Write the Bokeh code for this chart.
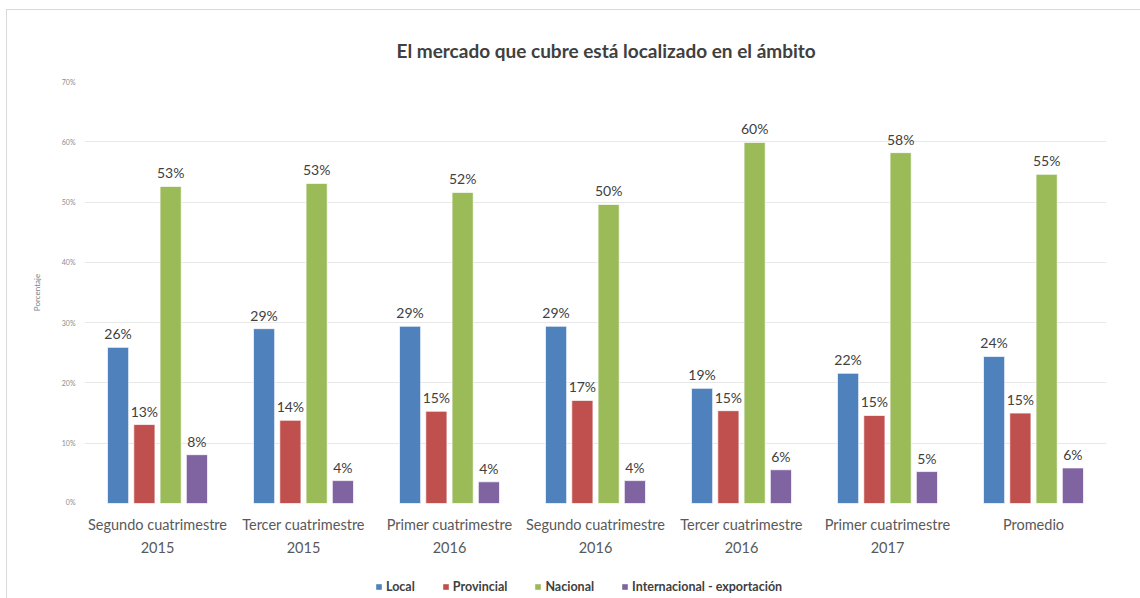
from bokeh.plotting import figure
from bokeh.layouts import column
from bokeh.models import ColumnDataSource, Legend, LegendItem, FixedTicker, Range1d, FactorRange
from bokeh.transform import dodge
from bokeh.core.properties import value
from bokeh.embed import file_html
from bokeh.resources import INLINE

categories = ["Segundo cuatrimestre\n2015", "Tercer cuatrimestre\n2015", "Primer cuatrimestre\n2016",
              "Segundo cuatrimestre\n2016", "Tercer cuatrimestre\n2016", "Primer cuatrimestre\n2017",
              "Promedio"]
series_names = ["Local", "Provincial", "Nacional", "Internacional - exportación"]
local = [25.9, 29.0, 29.4, 29.4, 19.1, 21.6, 24.4]
provincial = [13.1, 13.8, 15.3, 17.1, 15.4, 14.6, 15.0]
nacional = [52.6, 53.1, 51.6, 49.6, 59.9, 58.2, 54.6]
internacional = [8.1, 3.8, 3.6, 3.8, 5.6, 5.3, 5.9]
colors = ["#4F81BD", "#C0504D", "#9BBB59", "#8064A2"]
y_ticks = [0, 10, 20, 30, 40, 50, 60, 70]

FONT = "Lato"

# ---- main chart ----
p = figure(width=1134, height=495, x_range=FactorRange(*categories, range_padding=0),
           y_range=Range1d(0, 70), output_backend="svg", toolbar_location=None,
           min_border_left=77, min_border_right=35, min_border_top=71, min_border_bottom=2)
p.outline_line_color = None
p.background_fill_color = "white"

p.title.text = "El mercado que cubre está localizado en el ámbito"
p.title.text_font = FONT
p.title.text_font_size = "19px"
p.title.text_font_style = "bold"
p.title.text_color = "#404040"
p.title.align = "left"
p.title.offset = 312
p.title.standoff = 40

offsets = [-0.27, -0.09, 0.09, 0.27]
for name, vals, col, off in zip(series_names, [local, provincial, nacional, internacional], colors, offsets):
    src = ColumnDataSource(dict(x=categories, top=vals, label=[f"{round(v)}%" for v in vals]))
    p.vbar(x=dodge("x", off, range=p.x_range), top="top", width=0.145, source=src,
           fill_color=col, line_color="white", line_alpha=0.7, line_width=1)
    p.text(x=dodge("x", off, range=p.x_range), y="top", text="label", source=src,
           text_font=value(FONT), text_font_size="14px", text_color="#404040",
           text_align="center", text_baseline="bottom", y_offset=-5)

p.xgrid.visible = False
p.ygrid.grid_line_color = "#e8e8e8"
p.ygrid.grid_line_width = 1
p.xaxis.visible = False

p.yaxis.ticker = FixedTicker(ticks=y_ticks)
p.yaxis.major_label_overrides = {t: f"{t}%" for t in y_ticks}
p.yaxis.axis_line_color = None
p.yaxis.major_tick_line_color = None
p.yaxis.minor_tick_line_color = None
p.yaxis.major_label_text_font = FONT
p.yaxis.major_label_text_font_size = "7px"
p.yaxis.major_label_text_color = "#8c8c8c"
p.yaxis.major_label_standoff = 3
p.yaxis.axis_label = "Porcentaje"
p.yaxis.axis_label_text_font = FONT
p.yaxis.axis_label_text_font_size = "8px"
p.yaxis.axis_label_text_font_style = "normal"
p.yaxis.axis_label_text_color = "#7f7f7f"
p.yaxis.axis_label_standoff = 17

# ---- category labels and legend strip ----
p2 = figure(width=1134, height=94, x_range=p.x_range, y_range=Range1d(0, 94),
            output_backend="svg", toolbar_location=None,
            min_border_left=77, min_border_right=35, min_border_top=0, min_border_bottom=0)
p2.outline_line_color = None
p2.axis.visible = False
p2.grid.visible = False

cat_src = ColumnDataSource(dict(x=categories, y=[94] * len(categories)))
p2.text(x="x", y="y", text="x", source=cat_src, text_font=value(FONT), text_font_size="14.5px",
        text_color="#595959", text_align="center", text_baseline="top", y_offset=10,
        text_line_height=1.4)

# legend swatches: one off-screen bar per series (below the strip's visible range)
items = []
for name, col in zip(series_names, colors):
    r = p2.vbar(x=[categories[0]], top=[-20], bottom=[-30], width=0.1, fill_color=col, line_color=None)
    items.append(LegendItem(label=name, renderers=[r]))

legend = Legend(items=items, orientation="horizontal", location=(291, 5),
                glyph_width=7, glyph_height=7, label_standoff=4, spacing=27,
                padding=0, margin=0, border_line_color=None, background_fill_alpha=0,
                label_text_font=FONT, label_text_font_size="12.5px", label_text_color="#404040",
                label_text_font_style="bold", label_height=15)
p2.add_layout(legend, "center")

layout = column(p, p2, spacing=0)
layout.styles = {"margin-left": "6px", "margin-top": "9px",
                 "border-left": "1px solid #d9d9d9", "border-top": "1px solid #d9d9d9"}

open("out.html", "w").write(file_html(layout, INLINE))
